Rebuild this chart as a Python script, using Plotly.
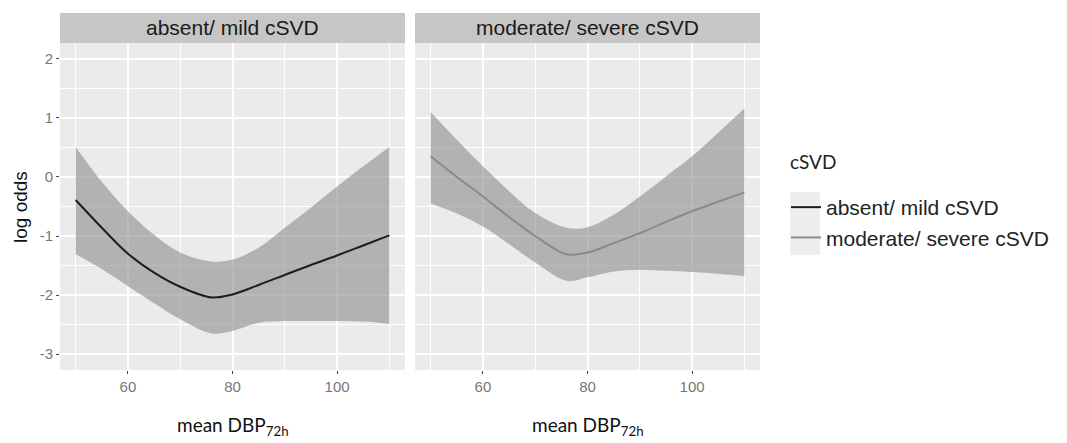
import plotly.graph_objects as go

# ---- data ----
dbp = [50, 55, 60, 65, 70, 76, 80, 85, 90, 95, 100, 105, 110]

mild_fit   = [-0.39, -0.86, -1.30, -1.62, -1.86, -2.04, -1.99, -1.83, -1.66, -1.49, -1.33, -1.16, -0.99]
mild_upper = [0.51, -0.08, -0.58, -0.98, -1.28, -1.43, -1.40, -1.20, -0.86, -0.52, -0.16, 0.18, 0.51]
mild_lower = [-1.31, -1.56, -1.85, -2.14, -2.41, -2.65, -2.61, -2.47, -2.44, -2.44, -2.44, -2.45, -2.49]

sev_fit   = [0.35, 0.00, -0.33, -0.68, -1.00, -1.31, -1.28, -1.12, -0.95, -0.76, -0.58, -0.42, -0.26]
sev_upper = [1.10, 0.63, 0.18, -0.24, -0.61, -0.86, -0.85, -0.64, -0.33, 0.01, 0.35, 0.75, 1.16]
sev_lower = [-0.45, -0.62, -0.84, -1.14, -1.45, -1.76, -1.70, -1.60, -1.57, -1.59, -1.61, -1.64, -1.68]

groups = ["absent/ mild cSVD", "moderate/ severe cSVD"]
legend_title = "cSVD"
x_title = "mean DBP<sub>72h</sub>"
y_title = "log odds"
line_colors = ["#1e1e1e", "#8a8a8a"]
x_ticks = [60, 80, 100]
y_ticks = [-3, -2, -1, 0, 1, 2]
y_tick_labels = ["-3", "-2", "-1", "0", "1", "2"]

W, H = 1067, 443
OFF = 8  # page body margin offset
PANEL_BG = "#ebebeb"
BAND = "rgba(140,140,140,0.6)"
STRIP = "#c6c6c6"

fig = go.Figure()

series = [(mild_fit, mild_upper, mild_lower), (sev_fit, sev_upper, sev_lower)]
for i, (fit, up, lo) in enumerate(series):
    xa = "x" if i == 0 else "x2"
    ya = "y" if i == 0 else "y2"
    fig.add_trace(go.Scatter(x=dbp, y=lo, mode="lines",
                             line=dict(width=0, shape="spline", smoothing=1.0),
                             showlegend=False, hoverinfo="skip", xaxis=xa, yaxis=ya))
    fig.add_trace(go.Scatter(x=dbp, y=up, mode="lines", fill="tonexty", fillcolor=BAND,
                             line=dict(width=0, shape="spline", smoothing=1.0),
                             showlegend=False, hoverinfo="skip", xaxis=xa, yaxis=ya))
    fig.add_trace(go.Scatter(x=dbp, y=fit, mode="lines", name=groups[i], legendgroup=groups[i],
                             line=dict(color=line_colors[i], width=2, shape="spline", smoothing=1.0),
                             xaxis=xa, yaxis=ya, showlegend=True))

def px_x(p):
    return (p - OFF) / W

def px_y(p):
    return 1 - (p - OFF) / H

xdom1 = [px_x(60), px_x(405)]
xdom2 = [px_x(415), px_x(760)]
ydom = [px_y(370), px_y(43)]

tickfont = dict(family="Liberation Sans", size=15, color="#777777")
axis_common_x = dict(range=[47, 113], tickvals=x_ticks, ticks="outside", ticklen=3,
                     tickcolor="#444444", tickfont=tickfont, automargin=False,
                     showgrid=True, gridcolor="white", gridwidth=1.6, zeroline=False,
                     minor=dict(dtick=10, tick0=50, showgrid=True, gridcolor="white", gridwidth=0.7),
                     showline=False, fixedrange=True)
axis_common_y = dict(range=[-3.27, 2.27], tickvals=y_ticks, ticktext=y_tick_labels, ticklen=3,
                     tickcolor="#444444", tickfont=tickfont, automargin=False,
                     showgrid=True, gridcolor="white", gridwidth=1.6, zeroline=False,
                     minor=dict(dtick=0.5, tick0=0, showgrid=True, gridcolor="white", gridwidth=0.7),
                     showline=False, fixedrange=True, domain=ydom)

fig.update_layout(
    width=W, height=H,
    margin=dict(l=0, r=0, t=0, b=0),
    paper_bgcolor="white", plot_bgcolor=PANEL_BG,
    xaxis=dict(domain=xdom1, anchor="y", **axis_common_x),
    xaxis2=dict(domain=xdom2, anchor="y2", **axis_common_x),
    yaxis=dict(anchor="x", ticks="outside", **axis_common_y),
    yaxis2=dict(anchor="x2", ticks="", showticklabels=False, **axis_common_y),
    legend=dict(x=px_x(786), y=px_y(187), xanchor="left", yanchor="top",
                font=dict(family="Liberation Sans", size=21, color="#222222"),
                bgcolor="rgba(0,0,0,0)", itemwidth=30, tracegroupgap=0),
    showlegend=True,
)

shapes = []
annotations = []
for dom, label in zip([xdom1, xdom2], groups):
    shapes.append(dict(type="rect", xref="paper", yref="paper", x0=dom[0], x1=dom[1],
                       y0=px_y(43), y1=px_y(13), fillcolor=STRIP, line=dict(width=0), layer="below"))
    annotations.append(dict(x=(dom[0] + dom[1]) / 2, y=px_y(28), xref="paper", yref="paper",
                            text=label, showarrow=False, xanchor="center", yanchor="middle",
                            font=dict(family="Liberation Sans", size=21, color="#1a1a1a")))
    annotations.append(dict(x=(dom[0] + dom[1]) / 2, y=px_y(426), xref="paper", yref="paper",
                            text=x_title, showarrow=False, xanchor="center", yanchor="middle",
                            font=dict(family="Lato", size=19, color="#111111")))

annotations.append(dict(x=px_x(20), y=px_y(207), xref="paper", yref="paper", text=y_title,
                        textangle=-90, showarrow=False, xanchor="center", yanchor="middle",
                        font=dict(family="Liberation Sans", size=19, color="#111111")))
annotations.append(dict(x=px_x(788), y=px_y(162), xref="paper", yref="paper", text=legend_title,
                        showarrow=False, xanchor="left", yanchor="middle",
                        font=dict(family="Lato", size=19, color="#222222")))

# legend key background
shapes.append(dict(type="rect", xref="paper", yref="paper", x0=px_x(790), x1=px_x(820),
                   y0=px_y(255), y1=px_y(192), fillcolor="#eeeeee", line=dict(width=0), layer="below"))

fig.update_layout(shapes=shapes, annotations=annotations)

fig.write_html("out.html")
